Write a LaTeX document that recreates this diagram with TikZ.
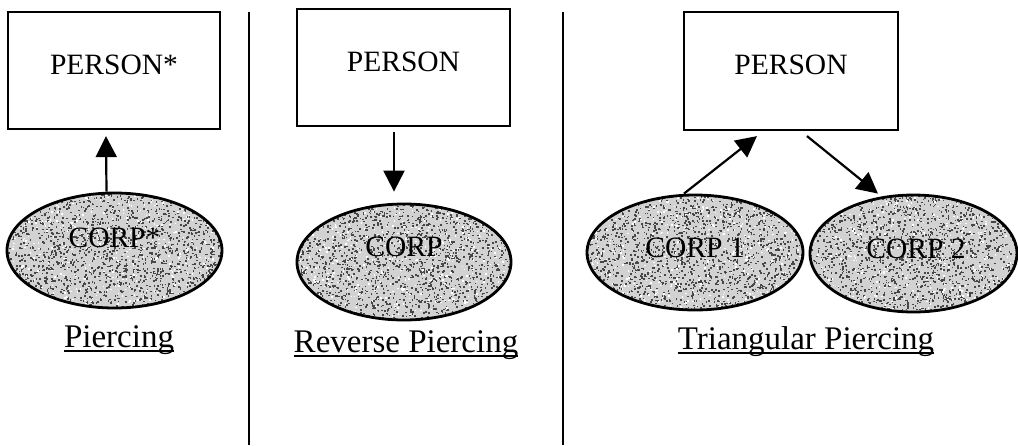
\documentclass[tikz,border=0pt]{standalone}
\usepackage{fontspec}
\setmainfont{Liberation Serif}
\usetikzlibrary{shapes.geometric,arrows.meta,calc}
\tikzset{
  personbox/.style={draw, line width=2.2pt, inner sep=2pt,
    font=\fontsize{29.5}{31}\selectfont, text height=20pt, text depth=13pt},
  corp/.style={ellipse, draw, line width=2.8pt, inner sep=1pt,
    font=\fontsize{29.5}{31}\selectfont, text height=20pt, fill=gray!35,
    path picture={
      \foreach \i in {1,...,2000}{
        \fill[black!72] ($(path picture bounding box.center)+(rand*112,rand*62)$) rectangle ++(1.6,1.6);}
      \foreach \i in {1,...,500}{
        \fill[white] ($(path picture bounding box.center)+(rand*112,rand*62)$) rectangle ++(1.5,1.5);}
    }},
  arr/.style={line width=2.2pt, -{Triangle[width=21pt,length=21pt]}},
  divider/.style={line width=2.5pt},
  caption/.style={inner sep=0pt, anchor=base, font=\fontsize{33}{36}\selectfont},
  uline/.style={line width=1.7pt}
}
\begin{document}
\begin{tikzpicture}[x=1pt,y=-1pt]
\pgfmathsetseed{7}
\useasboundingbox (0,0) rectangle (1018,445);

% panel 1
\node[personbox, minimum width=212pt, minimum height=117pt] (p1) at (114,70.5) {PERSON*};
\node[corp, minimum width=215pt, minimum height=115pt, text depth=25.6pt] (e1) at (114.5,250.5) {CORP*\hspace{14pt}};
\draw[arr] ([xshift=-8pt]e1.north) -- ([xshift=-8pt,yshift=-6pt]p1.south);
\node[caption] (l1) at (119,347) {Piercing};
\draw[uline] ([yshift=-4pt]l1.base west) -- ([yshift=-4pt]l1.base east);

% dividers
\coordinate (d1t) at (249,12);
\coordinate (d1b) at (249,445);
\coordinate (d2t) at (563,12);
\coordinate (d2b) at (563,445);
\draw[divider] (d1t) -- (d1b);
\draw[divider] (d2t) -- (d2b);

% panel 2
\node[personbox, minimum width=213pt, minimum height=117pt] (p2) at (403.5,67.5) {PERSON};
\node[corp, minimum width=214pt, minimum height=116pt, text depth=31.6pt] (e2) at (404,262) {CORP};
\draw[arr] ([xshift=-9.5pt,yshift=-5pt]p2.south) -- ([xshift=-10pt,yshift=11pt]e2.north);
\node[caption] (l2) at (406,352) {Reverse Piercing};
\draw[uline] ([yshift=-4pt]l2.base west) -- ([yshift=-4pt]l2.base east);

% panel 3
\node[personbox, minimum width=214pt, minimum height=118pt] (p3) at (791,71) {PERSON};
\node[corp, minimum width=216pt, minimum height=115pt, text depth=10.6pt] (c31) at (695,252.5) {CORP 1\hspace{18pt}};
\node[corp, minimum width=207pt, minimum height=117pt, text depth=10.6pt] (c32) at (913.5,253.5) {\hspace{5pt}CORP 2};
\draw[arr] ([xshift=-11pt]c31.north) -- ([xshift=-34pt,yshift=-5pt]p3.south);
\draw[arr] ([xshift=16pt,yshift=-5pt]p3.south) -- ([xshift=-35.5pt]c32.north);
\node[caption] (l3) at (806,349) {Triangular Piercing};
\draw[uline] ([yshift=-4pt]l3.base west) -- ([yshift=-4pt]l3.base east);
\end{tikzpicture}
\end{document}
